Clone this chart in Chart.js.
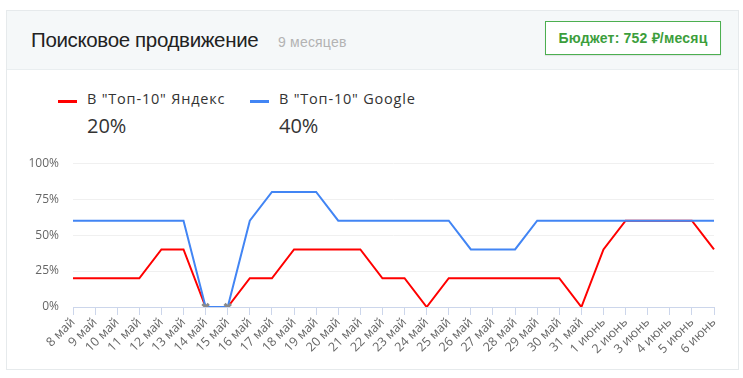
<!DOCTYPE html>
<html>
<head>
<meta charset="utf-8">
<script src="https://cdn.jsdelivr.net/npm/chart.js@4"></script>
<style>
    body { margin: 0; background: #fff; font-family: "Liberation Sans", Arial, sans-serif; }
    .card { position: absolute; left: 6px; top: 10px; width: 733px; height: 360px; border: 1px solid #e6eaec; box-sizing: border-box; }
    .head { position: absolute; left: 0; top: 0; right: 0; height: 58px; background: #f5f8f9; border-bottom: 1px solid #e9eef0; }
    .title { position: absolute; left: 24px; top: 17px; font-size: 20.5px; color: #222; letter-spacing: -0.35px; }
    .sub { position: absolute; left: 271px; top: 23px; font-size: 14px; color: #b3b3b3; letter-spacing: 0.2px; }
    .budget { position: absolute; left: 538px; top: 10px; width: 176px; height: 34px; box-sizing: border-box; border: 1px solid #4caf50; background: #fff;
        font-weight: bold; font-size: 14px; color: #3c9e3c; text-align: center; line-height: 32px; letter-spacing: 0.2px; box-shadow: 0 1px 1px rgba(0,0,0,0.08); }
    .legend { position: absolute; top: 89px; font-family: "Open Sans", sans-serif; color: #333; }
    .legend .mark { position: absolute; left: 0; top: 11px; width: 19px; height: 3px; }
    .legend .name { position: absolute; left: 29px; top: 0; font-size: 14.5px; letter-spacing: 0.8px; white-space: nowrap; }
    .legend .val { position: absolute; left: 29px; top: 23px; font-size: 20px; }
    #wrap { position: absolute; left: 0; top: 142px; width: 743px; height: 234px; }
</style>
</head>
<body>
<div class="card">
    <div class="head">
        <div class="title">Поисковое продвижение</div>
        <div class="sub">9 месяцев</div>
        <div class="budget">Бюджет: 752 ₽/месяц</div>
    </div>
</div>
<div id="legend"></div>
<div id="wrap"><canvas id="seo_Chart" width="743" height="234"></canvas></div>
<script>
    // даты
    const days = ['8 май', '9 май', '10 май', '11 май', '12 май', '13 май', '14 май', '15 май', '16 май', '17 май',
        '18 май', '19 май', '20 май', '21 май', '22 май', '23 май', '24 май', '25 май', '26 май', '27 май',
        '28 май', '29 май', '30 май', '31 май', '1 июнь', '2 июнь', '3 июнь', '4 июнь', '5 июнь', '6 июнь'];
    // позиции в топ-10, %
    const yandexTop = [20, 20, 20, 20, 40, 40, 0, 0, 20, 20, 40, 40, 40, 40, 20, 20, 0, 20, 20, 20, 20, 20, 20, 0, 40, 60, 60, 60, 60, 40];
    const googleTop = [60, 60, 60, 60, 60, 60, 0, 0, 60, 80, 80, 80, 60, 60, 60, 60, 60, 60, 40, 40, 40, 60, 60, 60, 60, 60, 60, 60, 60, 60];
    const yTicks = [0, 25, 50, 75, 100];
    const seriesNames = ['В "Топ-10" Яндекс', 'В "Топ-10" Google'];
    const seriesTotals = ['20%', '40%'];
    const seriesColors = ['#ff0000', '#4285f4'];

    // легенда
    const legendPos = [58, 250];
    const legend = document.getElementById('legend');
    seriesNames.forEach((name, i) => {
        const item = document.createElement('div');
        item.className = 'legend';
        item.style.left = legendPos[i] + 'px';
        item.innerHTML = '<div class="mark" style="background:' + seriesColors[i] + '"></div>' +
            '<div class="name">' + name + '</div><div class="val">' + seriesTotals[i] + '</div>';
        legend.appendChild(item);
    });

    // серые крестики там, где нет данных (обе серии в нуле)
    const noData = (ctx) => yandexTop[ctx.dataIndex] === 0 && googleTop[ctx.dataIndex] === 0;

    const ctxSeo = document.getElementById('seo_Chart').getContext('2d');
    new Chart(ctxSeo, {
        type: 'line',
        data: {
            labels: days,
            datasets: [{
                label: seriesNames[0],
                data: yandexTop,
                borderColor: seriesColors[0],
                borderWidth: 2,
                pointRadius: 0,
                tension: 0,
                order: 1,
            }, {
                label: seriesNames[1],
                data: googleTop,
                borderColor: seriesColors[1],
                borderWidth: 2,
                tension: 0,
                order: 0,
                pointStyle: 'crossRot',
                pointRadius: (ctx) => noData(ctx) ? 4.5 : 0,
                pointBorderColor: '#8a8a8a',
                pointBorderWidth: 3,
            }]
        },
        options: {
            responsive: false,
            animation: false,
            layout: {
                padding: { left: 10, right: 29, top: 6, bottom: 9 }
            },
            plugins: {
                legend: { display: false },
                tooltip: { enabled: false }
            },
            scales: {
                x: {
                    afterFit: (scale) => { scale.height = 60; },
                    grid: {
                        drawOnChartArea: false,
                        color: '#ccd6eb',
                        tickLength: 8,
                    },
                    border: { color: '#ccd6eb' },
                    ticks: {
                        autoSkip: false,
                        minRotation: 45,
                        maxRotation: 45,
                        color: '#666',
                        padding: 0,
                        font: { family: 'Open Sans', size: 12.5 }
                    }
                },
                y: {
                    min: 0,
                    max: 100,
                    afterFit: (scale) => { scale.width = 63; },
                    afterBuildTicks: (scale) => { scale.ticks = yTicks.map(v => ({ value: v })); },
                    grid: {
                        color: '#f0f0f0',
                        drawTicks: false,
                    },
                    border: { display: false },
                    ticks: {
                        color: '#666',
                        padding: 14,
                        font: { family: 'Open Sans', size: 12 },
                        callback: (value) => value + '%'
                    }
                }
            }
        }
    });
</script>
</body>
</html>
